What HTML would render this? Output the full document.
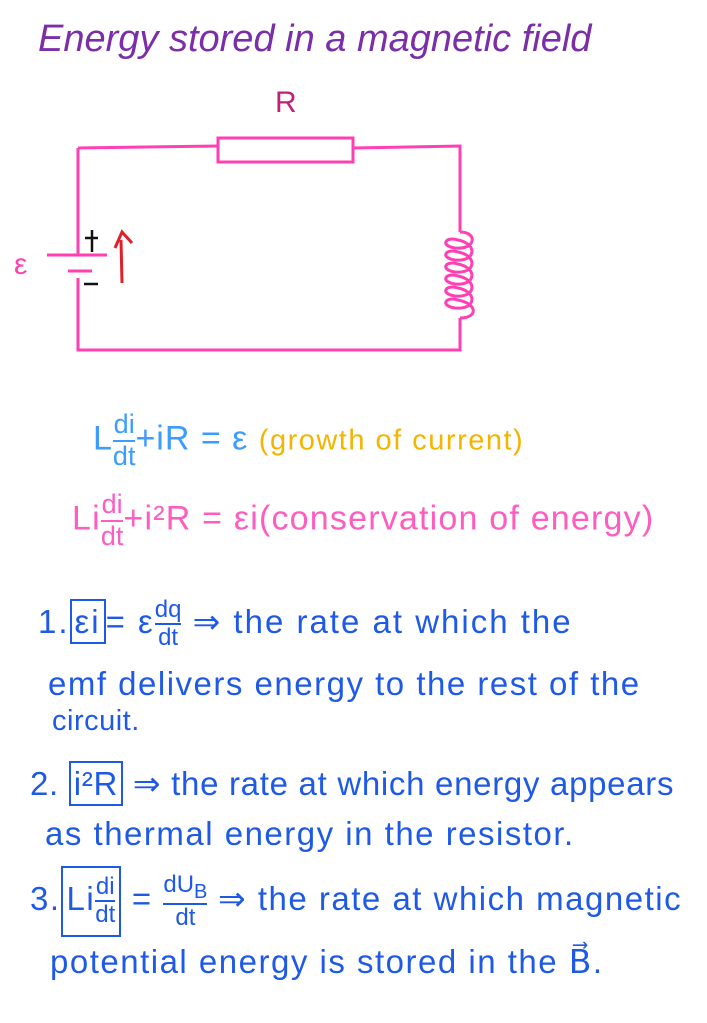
<!DOCTYPE html><html><head><style>
body{margin:0;width:707px;height:1023px;background:#fff;position:relative;overflow:hidden;font-family:"Liberation Sans",sans-serif}
.t{position:absolute;white-space:nowrap;line-height:1}
.b{color:#1f5ae6;font-size:33px;letter-spacing:1.5px}
.f{display:inline-block;vertical-align:middle;text-align:center;font-size:24px;line-height:1.1;letter-spacing:0}
.f span{display:block}
.f span:first-child{border-bottom:2px solid currentColor}
.bx{border:2.5px solid #1f5ae6;padding:2px 3px}
</style></head><body>
<div class="t" style="left:38px;top:20px;font-size:38px;color:#7a2ea8;font-style:italic;letter-spacing:0px">Energy stored in a magnetic field</div>
<div class="t" style="left:275px;top:88px;font-size:30px;color:#c0207a">R</div>
<svg width="707" height="1023" style="position:absolute;left:0;top:0">
<g stroke="#ff3fb2" stroke-width="3" fill="none">
<path d="M78 148 L218 146 M353 148 L460 146 L460 232 M460 318 L460 350 L78 350 L78 278 M78 148 L78 255"/>
<rect x="218" y="138" width="135" height="24"/>
<path d="M47 255 L107 255 M68 271 L92 271"/>
<path d="M460 232 C478 232 476 250 455 248 C440 246 445 236 458 240 C478 244 476 262 455 260 C440 258 445 248 458 252 C478 256 476 274 455 272 C440 270 445 260 458 264 C478 268 476 286 455 284 C440 282 445 272 458 276 C478 280 476 298 455 296 C440 294 445 284 458 288 C478 292 476 310 455 308 C440 306 445 296 458 300 C478 304 478 318 460 318"/>
</g>
<path d="M122 283 L121 240 M115 248 L122 232 L132 243" stroke="#e0202a" stroke-width="3" fill="none"/>
<path d="M92 230 L92 252 M85 238 L98 238 M84 284 L98 284" stroke="#111" stroke-width="2.5"/>
</svg>
<div class="t" style="left:14px;top:250px;font-size:30px;color:#ff3fb2">ε</div>
<div class="t" style="left:93px;top:410px;font-size:34px;color:#3c9cff;letter-spacing:1px">L<span class="f" style="font-size:27px"><span>di</span><span>dt</span></span>+iR = ε <span style="color:#f5b400;font-size:29px;letter-spacing:1.5px">(growth of current)</span></div>
<div class="t" style="left:72px;top:490px;font-size:34px;color:#ff5cc0;letter-spacing:1.2px">Li<span class="f" style="font-size:27px"><span>di</span><span>dt</span></span>+i²R = εi(conservation of energy)</div>
<div class="t b" style="left:38px;top:597px;letter-spacing:2px">1.<span class="bx">εi</span>= ε<span class="f"><span>dq</span><span>dt</span></span> ⇒ the rate at which the</div>
<div class="t b" style="left:48px;top:667px">emf delivers energy to the rest of the</div>
<div class="t b" style="left:52px;top:707px;font-size:29px;letter-spacing:0.5px">circuit.</div>
<div class="t b" style="left:30px;top:767px;letter-spacing:0.7px">2. <span class="bx">i²R</span> ⇒ the rate at which energy appears</div>
<div class="t b" style="left:45px;top:817px">as thermal energy in the resistor.</div>
<div class="t b" style="left:30px;top:866px">3.<span class="bx" style="display:inline-block;padding:6px 4px">Li<span class="f"><span>di</span><span>dt</span></span></span> = <span class="f"><span>dU<sub>B</sub></span><span>dt</span></span> ⇒ the rate at which magnetic</div>
<div class="t b" style="left:50px;top:945px">potential energy is stored in the B⃗.</div>
</body></html>
